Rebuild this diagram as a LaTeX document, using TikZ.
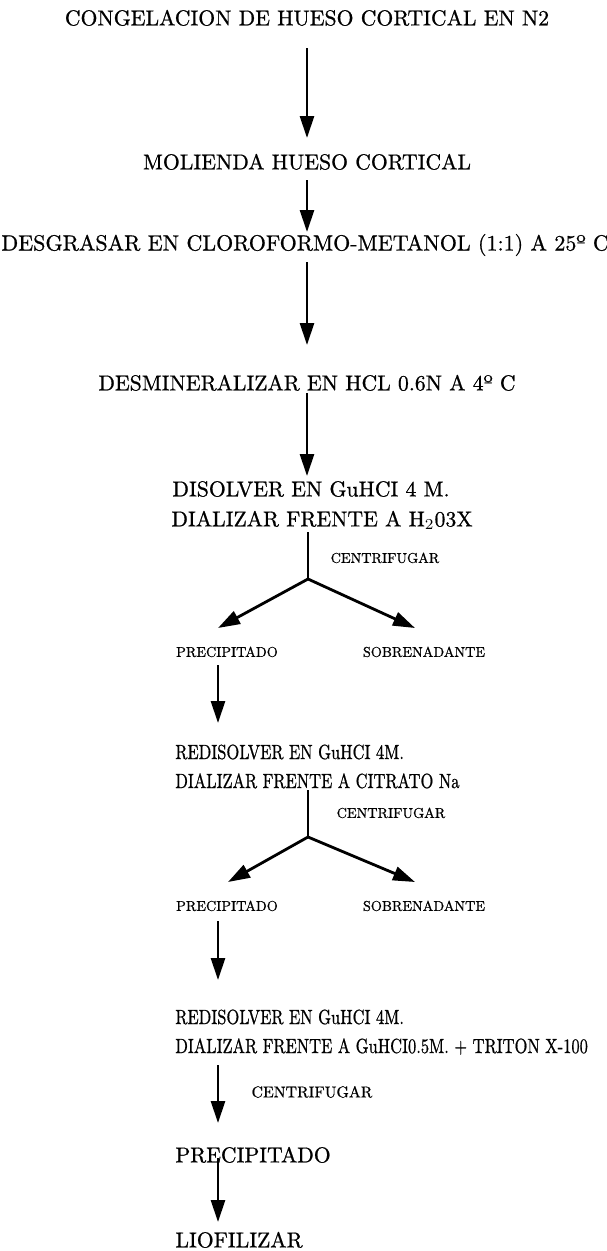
\documentclass[tikz,border=0pt]{standalone}
\usepackage{fontspec}
\setmainfont{lmroman10-regular.otf}[FakeBold=0.8]
\usetikzlibrary{arrows.meta}
\tikzset{
  txt/.style={font=\fontsize{10}{12}\selectfont, inner sep=0pt, text height=6.83pt, text depth=0pt},
  big/.style={txt, scale=2.17},
  cond/.style={txt, xscale=1.65, yscale=2.05, anchor=west},
  small/.style={txt, scale=1.42},
  smallb/.style={txt, scale=1.58},
  flow/.style={line width=2.8pt, -{Triangle[length=22pt,width=14pt]}},
  stem/.style={line width=2.8pt},
}
\begin{document}
\begin{tikzpicture}[x=1pt,y=-1pt]
\fill[white] (0,0) rectangle (607,1251);
\path[use as bounding box] (0,0) rectangle (607,1251);

% texts
\node[big] (t1) at (307,18) {CONGELACION DE HUESO CORTICAL EN N2};
\node[big] (t2) at (307,162) {MOLIENDA HUESO CORTICAL};
\node[txt,scale=2.2,anchor=west] (t3) at (1,243) {DESGRASAR EN CLOROFORMO-METANOL (1:1) A 25º C};
\node[big] (t4) at (307,383) {DESMINERALIZAR EN HCL 0.6N A 4º C};
\node[big,anchor=west] (t5a) at (172,489) {DISOLVER EN GuHCI 4 M.};
\node[big,anchor=west] (t5b) at (171,519) {DIALIZAR FRENTE A H$_2$03X};
\node[small] (c1) at (385,558) {CENTRIFUGAR};
\node[small] (p1) at (227,652) {PRECIPITADO};
\node[small] (s1) at (424,652) {SOBRENADANTE};
\node[cond] (r1a) at (175,752) {REDISOLVER EN GuHCI 4M.};
\node[cond] (r1b) at (175,781) {DIALIZAR FRENTE A CITRATO Na};
\node[small] (c2) at (391,813) {CENTRIFUGAR};
\node[small] (p2) at (227,906) {PRECIPITADO};
\node[small] (s2) at (424,906) {SOBRENADANTE};
\node[cond] (r2a) at (175,1017) {REDISOLVER EN GuHCI 4M.};
\node[cond] (r2b) at (175,1046) {DIALIZAR FRENTE A GuHCI0.5M. + TRITON X-100};
\node[smallb] (c3) at (312,1092) {CENTRIFUGAR};
\node[big,anchor=west] (p3) at (175,1155) {PRECIPITADO};
\node[big,anchor=west] (l1) at (175,1240) {LIOFILIZAR};

% connector end points
\coordinate (a1s) at (307,48);   \coordinate (a1e) at (307,138);
\coordinate (a2s) at (307,180);  \coordinate (a2e) at (307,232);
\coordinate (a3s) at (307,262);  \coordinate (a3e) at (307,345);
\coordinate (a4s) at (307,393);  \coordinate (a4e) at (307,476);
\coordinate (v1s) at (308,532);  \coordinate (j1) at (308,579);
\coordinate (j1l) at (218,628);  \coordinate (j1r) at (415,628);
\coordinate (a5s) at (218,665);  \coordinate (a5e) at (218,723);
\coordinate (v2s) at (308,790);  \coordinate (j2) at (308,837);
\coordinate (j2l) at (228,882);  \coordinate (j2r) at (415,882);
\coordinate (a6s) at (218,921);  \coordinate (a6e) at (218,980);
\coordinate (a7s) at (218,1065); \coordinate (a7e) at (218,1123);
\coordinate (a8s) at (218,1158); \coordinate (a8e) at (218,1222);

\draw[flow] (a1s) -- (a1e);
\draw[flow] (a2s) -- (a2e);
\draw[flow] (a3s) -- (a3e);
\draw[flow] (a4s) -- (a4e);
\draw[stem] (v1s) -- (j1);
\draw[flow] (j1) -- (j1l);
\draw[flow] (j1) -- (j1r);
\draw[flow] (a5s) -- (a5e);
\draw[stem] (v2s) -- (j2);
\draw[flow] (j2) -- (j2l);
\draw[flow] (j2) -- (j2r);
\draw[flow] (a6s) -- (a6e);
\draw[flow] (a7s) -- (a7e);
\draw[flow] (a8s) -- (a8e);
\end{tikzpicture}
\end{document}
